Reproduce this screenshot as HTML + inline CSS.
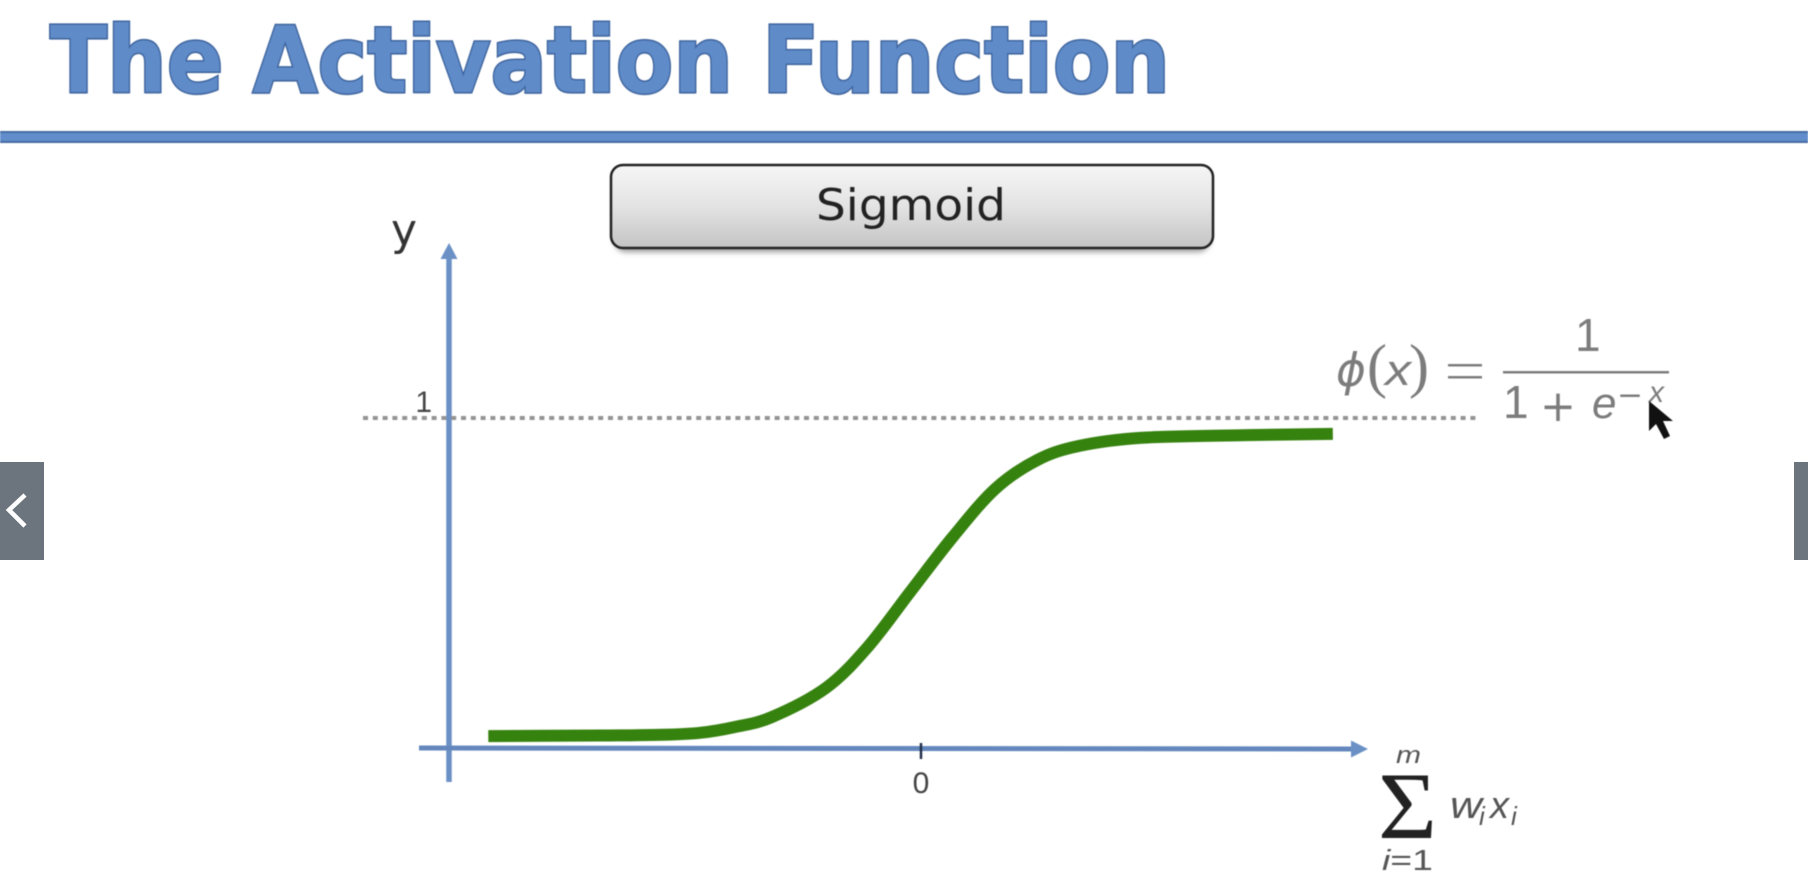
<!DOCTYPE html>
<html lang="en">
<head>
<meta charset="utf-8">
<title>The Activation Function</title>
<style>
html,body{margin:0;padding:0;background:#fff;width:1808px;height:892px;overflow:hidden}
svg{display:block}
#chart{filter:blur(0.5px)}
text{font-family:"DejaVu Sans","Liberation Sans",sans-serif}
.serif{font-family:"Liberation Serif",serif}
.lib{font-family:"Liberation Sans",sans-serif}
.nav{position:absolute;background:#6c757d;border:0;padding:0;top:462px;height:98px}
</style>
</head>
<body>
<svg id="chart" width="1808" height="892" viewBox="0 0 1808 892" xmlns="http://www.w3.org/2000/svg">
  <defs>
    <linearGradient id="btnGrad" x1="0" y1="0" x2="0" y2="1">
      <stop offset="0" stop-color="#f6f6f6"/>
      <stop offset="0.5" stop-color="#e3e3e3"/>
      <stop offset="1" stop-color="#c4c4c4"/>
    </linearGradient>
    <filter id="soft" x="-5%" y="-20%" width="110%" height="150%"><feGaussianBlur stdDeviation="3"/></filter>
  </defs>
  <rect x="0" y="0" width="1808" height="892" fill="#ffffff"/>

  <text x="50" y="94" font-size="92" font-weight="700" textLength="1120" lengthAdjust="spacingAndGlyphs" fill="#c9d3e2" opacity="0.7">The Activation Function</text>
  <text x="50" y="92" font-size="92" font-weight="700" textLength="1120" lengthAdjust="spacingAndGlyphs" fill="#5f8bc9" stroke="#3f659e" stroke-width="3" paint-order="stroke">The Activation Function</text>

  <rect x="0" y="131" width="1808" height="12" fill="#466ca3"/>
  <rect x="0" y="133" width="1808" height="8" fill="#628dcb"/>

  <rect x="614" y="172" width="596" height="80" rx="12" fill="#999" filter="url(#soft)"/>
  <rect x="611" y="165" width="602" height="83" rx="12" fill="url(#btnGrad)" stroke="#222222" stroke-width="2.5"/>
  <text x="816" y="220" font-size="44" textLength="190" lengthAdjust="spacingAndGlyphs" fill="#222222">Sigmoid</text>

  <g id="plot"></g>

  <text x="391" y="245" font-size="44" fill="#333">y</text>

  <g fill="#7c7c7c">
    <text x="1336" y="386" font-size="46" font-style="italic" textLength="30" lengthAdjust="spacingAndGlyphs">ϕ</text>
    <text class="serif" x="1367" y="386" font-size="60">(</text>
    <text class="lib" x="1385" y="385" font-size="44" font-style="italic" textLength="26" lengthAdjust="spacingAndGlyphs">x</text>
    <text class="serif" x="1409" y="386" font-size="60">)</text>
    <rect x="1448" y="364" width="34" height="2.5"/>
    <rect x="1448" y="376" width="34" height="2.5"/>
    <text class="lib" x="1575" y="351" font-size="46">1</text>
    <rect x="1503" y="371" width="166" height="2.5"/>
    <text class="lib" x="1503" y="418" font-size="46">1</text>
    <text x="1540" y="421" font-size="44" textLength="36" lengthAdjust="spacingAndGlyphs">+</text>
    <text class="lib" x="1592" y="418" font-size="44" font-style="italic">e</text>
    <text x="1617" y="405" font-size="30" textLength="26" lengthAdjust="spacingAndGlyphs">−</text>
    <text class="lib" x="1649" y="402" font-size="30" font-style="italic">x</text>
  </g>

  <polygon points="1649,401 1649,431 1656,424 1664,439 1670,436 1663,421 1673,421" fill="#111"/>

  <g fill="#555">
    <text class="lib" x="1396" y="763" font-size="24" font-style="italic" textLength="25" lengthAdjust="spacingAndGlyphs">m</text>
    <text class="serif" x="1378" y="838" font-size="95" fill="#222" textLength="59" lengthAdjust="spacingAndGlyphs">Σ</text>
    <text class="lib" x="1450" y="818" font-size="38" font-style="italic" textLength="32" lengthAdjust="spacingAndGlyphs">w</text>
    <text class="lib" x="1479" y="825" font-size="26" font-style="italic">i</text>
    <text class="lib" x="1490" y="818" font-size="38" font-style="italic">x</text>
    <text class="lib" x="1511" y="825" font-size="26" font-style="italic">i</text>
    <text class="lib" x="1382" y="870" font-size="29" textLength="51" lengthAdjust="spacingAndGlyphs"><tspan font-style="italic">i</tspan>=1</text>
  </g>
</svg>

<button class="nav" style="left:0;width:44px" aria-label="Previous">
  <svg width="44" height="98" viewBox="0 0 44 98"><polyline points="25,33 9,48 25,64" fill="none" stroke="#fff" stroke-width="4.5"/></svg>
</button>
<button class="nav" style="left:1794px;width:14px" aria-label="Next"></button>

<script>
// Sigmoid curve
const xValues = [-6.01, -4.46, -3.58, -3.07, -2.6, -2.08, -1.32, -0.74, -0.15, 0.44, 1.03, 1.61, 2.19, 3.07, 4.53, 5.72];
const yValues = [0.036, 0.038, 0.040, 0.046, 0.063, 0.093, 0.182, 0.306, 0.473, 0.639, 0.785, 0.872, 0.915, 0.940, 0.948, 0.952];
const xTickValues = [0];
const xTickLabels = ['0'];
const yTickValues = [1];
const yTickLabels = ['1'];

const xOriginPx = 921, xUnitPx = 72;
const yOriginPx = 748, yUnitPx = 330;
function xScale(v) { return xOriginPx + v * xUnitPx; }
function yScale(v) { return yOriginPx - v * yUnitPx; }

const NS = 'http://www.w3.org/2000/svg';
const plot = document.getElementById('plot');
function make(tag, attrs, parent) {
  const el = document.createElementNS(NS, tag);
  for (const k in attrs) el.setAttribute(k, attrs[k]);
  (parent || plot).appendChild(el);
  return el;
}
const axisColor = '#6a90c6';

// Axes
const yAxis = make('line', {x1: 449, y1: 782, x2: 449, y2: 258, stroke: axisColor, 'stroke-width': 5.5});


const yHead = make('polygon', {points: '449,243 440.5,259 457.5,259', fill: axisColor});


const xAxis = make('line', {x1: 419, y1: 748, x2: 1353, y2: 749, stroke: '#6488bd', 'stroke-width': 5});


const xHead = make('polygon', {points: '1368,749 1351,740.5 1351,757.5', fill: axisColor});



// Horizontal reference line and y ticks
yTickValues.forEach(function (v, i) {
  const ref = make('line', {x1: 363, x2: 1479, y1: yScale(v), y2: yScale(v), stroke: '#949494', 'stroke-width': 4, 'stroke-dasharray': '5 4.8'});
  
  
  const lab = make('text', {x: 432, y: yScale(v) - 6, 'font-size': 30, 'text-anchor': 'end', fill: '#444', 'class': 'lib'});
  
  
  lab.textContent = yTickLabels[i];
});

// x ticks
xTickValues.forEach(function (v, i) {
  const t = make('line', {x1: xScale(v), x2: xScale(v), y1: 743, y2: 759, stroke: '#22304a', 'stroke-width': 2.5});
  
  
  const lab = make('text', {x: xScale(v), y: 793, 'font-size': 30, 'text-anchor': 'middle', fill: '#444', 'class': 'lib'});
  
  
  lab.textContent = xTickLabels[i];
});

// Curve: smooth path through data points
const pts = xValues.map(function (x, i) { return [xScale(x), yScale(yValues[i])]; });
let d = 'M' + pts[0][0] + ' ' + pts[0][1];
for (let i = 0; i < pts.length - 1; i++) {
  const p0 = pts[Math.max(i - 1, 0)], p1 = pts[i], p2 = pts[i + 1], p3 = pts[Math.min(i + 2, pts.length - 1)];
  const c1x = p1[0] + (p2[0] - p0[0]) / 6, c1y = p1[1] + (p2[1] - p0[1]) / 6;
  const c2x = p2[0] - (p3[0] - p1[0]) / 6, c2y = p2[1] - (p3[1] - p1[1]) / 6;
  d += ' C' + c1x + ' ' + c1y + ' ' + c2x + ' ' + c2y + ' ' + p2[0] + ' ' + p2[1];
}
const curve = make('path', {d: d, fill: 'none', stroke: '#36820f', 'stroke-width': 12, 'stroke-linejoin': 'round'});


</script>
</body>
</html>
